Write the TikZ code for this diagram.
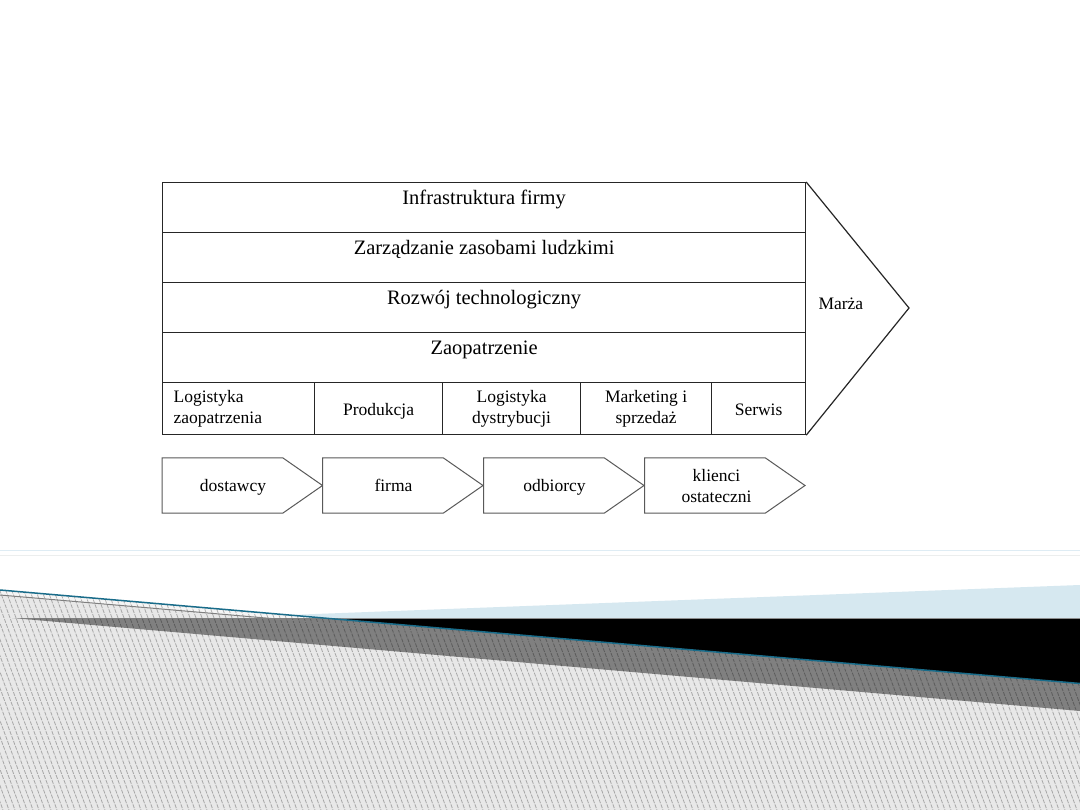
\documentclass[tikz,border=0pt]{standalone}
\usepackage{fontspec}
\setmainfont{Liberation Serif}
\definecolor{lblue}{RGB}{214,232,240}
\definecolor{teal2}{RGB}{25,108,138}
\definecolor{lgrey}{RGB}{232,232,232}
\definecolor{dgrey}{RGB}{128,128,128}
\definecolor{faintblue}{RGB}{222,236,244}
\definecolor{faintgrey}{RGB}{236,238,238}
\begin{document}
\begin{tikzpicture}[x=1pt,y=-1pt,
  row/.style={draw=black!85, line width=1.2pt, minimum width=643pt, inner sep=0pt,
    text height=21.5pt, text depth=28.5pt, font=\fontsize{20.5}{24}\selectfont, anchor=north west},
  cell/.style={draw=black!85, line width=1.2pt, minimum height=52pt, inner sep=0pt,
    align=center, font=\fontsize{17.5}{21}\selectfont, anchor=north west},
  onecell/.style={cell, text height=33pt, text depth=19pt},
  chev/.style={draw=black!65, line width=1pt, fill=white},
  chevtext/.style={font=\fontsize{17.5}{21}\selectfont, align=center},
  hatch/.style={black, opacity=0.28, line width=0.8pt, dash pattern=on 4pt off 1.2pt}]

\useasboundingbox (0,0) rectangle (1080,810);
\fill[white] (0,0) rectangle (1080,810);

% ---------- decorative background ----------
\draw[faintblue, line width=1pt] (0,550) -- (1080,550);
\draw[faintgrey, line width=1pt] (0,555) -- (1080,555);
\fill[lblue] (289,615) -- (1080,585) -- (1080,618) -- (324,618) -- cycle;
\fill[black] (324,618) -- (1080,618) -- (1080,683.5) -- cycle;
\draw[black!45, line width=1pt] (324,618) -- (1080,618);
\fill[lgrey] (0,590) -- (1080,683.5) -- (1080,810) -- (0,810) -- cycle;
\fill[black!4] (0,590) -- (1080,683.5) -- (1080,688.5) -- (0,595) -- cycle;
\fill[dgrey] (12,618) -- (324,618) -- (1080,683.5) -- (1080,711) -- cycle;
\begin{scope}
  \clip (0,590) -- (1080,683.5) -- (1080,810) -- (0,810) -- cycle;
  \foreach \x in {-100,-94,...,1086} {
    \draw[hatch] (\x,580) -- ++(85,230);
  }
\end{scope}
\draw[black!50, line width=1pt] (0,595) -- (1080,688.5);
\draw[teal2, line width=1.5pt] (0,590) -- (1080,683.5);

% ---------- value chain ----------
\node[row] (infra) at (162,182) {Infrastruktura firmy};
\node[row] (hr)    at (162,232) {Zarządzanie zasobami ludzkimi};
\node[row] (tech)  at (162,282) {Rozwój technologiczny};
\node[row] (zaop)  at (162,332) {Zaopatrzenie};

\node[cell, minimum width=152pt, text width=130pt, inner xsep=11pt, align=left] (logz) at (162,382) {Logistyka\\zaopatrzenia};
\node[onecell, minimum width=128pt] (prod) at (314,382) {Produkcja};
\node[cell, minimum width=138pt] (logd) at (442,382) {Logistyka\\dystrybucji};
\node[cell, minimum width=131pt] (mark) at (580,382) {Marketing i\\sprzedaż};
\node[onecell, minimum width=94pt]  (serw) at (711,382) {Serwis};

\coordinate (tip) at (909,308);
\draw[black!85, line width=1.2pt] (infra.north east) -- (tip) -- (serw.south east);
\node[anchor=base west, font=\fontsize{17.5}{21}\selectfont] (marza) at (815,310) {Marża};

% ---------- supply chain chevrons ----------
\foreach \L/\name/\txt in {162/dost/dostawcy, 322.5/firma/firma, 483.5/odb/odbiorcy} {
  \draw[chev] (\L,458) -- ++(121,0) -- ++(39.5,27.5) -- ++(-39.5,27.5) -- ++(-121,0) -- cycle;
  \node[chevtext, anchor=base] (\name) at (\L+71,491) {\txt};
}
\draw[chev] (644.5,458) -- ++(121,0) -- ++(39.5,27.5) -- ++(-39.5,27.5) -- ++(-121,0) -- cycle;
\node[chevtext] (kl) at (716.5,486) {klienci\\ostateczni};
\end{tikzpicture}
\end{document}
